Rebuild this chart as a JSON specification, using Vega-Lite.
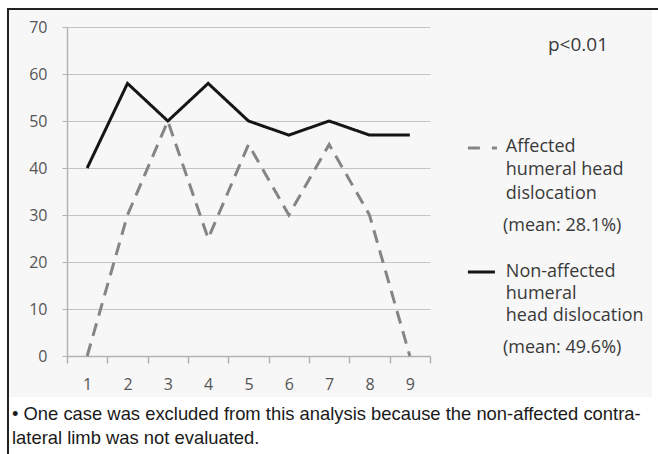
{
  "$schema": "https://vega.github.io/schema/vega-lite/v6.json",
  "width": 363,
  "height": 329,
  "autosize": {"type": "none"},
  "padding": {"left": 67, "top": 27, "right": 228, "bottom": 98},
  "background": "#f7f7f7",
  "config": {"view": {"stroke": null}},
  "datasets": {
    "series": [
      {"case": 1, "value": 0, "series": "Affected"},
      {"case": 2, "value": 30, "series": "Affected"},
      {"case": 3, "value": 50, "series": "Affected"},
      {"case": 4, "value": 25, "series": "Affected"},
      {"case": 5, "value": 45, "series": "Affected"},
      {"case": 6, "value": 30, "series": "Affected"},
      {"case": 7, "value": 45, "series": "Affected"},
      {"case": 8, "value": 30, "series": "Affected"},
      {"case": 9, "value": 0, "series": "Affected"},
      {"case": 1, "value": 40, "series": "Non-affected"},
      {"case": 2, "value": 58, "series": "Non-affected"},
      {"case": 3, "value": 50, "series": "Non-affected"},
      {"case": 4, "value": 58, "series": "Non-affected"},
      {"case": 5, "value": 50, "series": "Non-affected"},
      {"case": 6, "value": 47, "series": "Non-affected"},
      {"case": 7, "value": 50, "series": "Non-affected"},
      {"case": 8, "value": 47, "series": "Non-affected"},
      {"case": 9, "value": 47, "series": "Non-affected"}
    ],
    "margins": [
      {"case": -1.46, "case2": -0.938, "value": 80, "value2": -26.4},
      {"case": -1.46, "case2": 16.2, "value": 80, "value2": 73.8},
      {"case": -1.46, "case2": 16.2, "value": -8.72, "value2": -26.4},
      {"case": 15.005, "case2": 16.2, "value": 80, "value2": -26.4}
    ],
    "frame": [
      {"case": -0.963, "case2": 16.7, "value": 73.83, "value2": -30.6}
    ],
    "legendKeys": [
      {"series": "Affected", "case": 10.44, "case2": 11.16, "value": 44.26},
      {"series": "Non-affected", "case": 10.44, "case2": 11.11, "value": 17.87}
    ],
    "legendText": [
      {"label": "Affected", "case": 11.38, "value": 44.47},
      {"label": "humeral head", "case": 11.38, "value": 39.57},
      {"label": "dislocation", "case": 11.38, "value": 34.47},
      {"label": "(mean: 28.1%)", "case": 11.31, "value": 27.66},
      {"label": "Non-affected", "case": 11.38, "value": 17.87},
      {"label": "humeral", "case": 11.38, "value": 13.19},
      {"label": "head dislocation", "case": 11.38, "value": 8.51},
      {"label": "(mean: 49.6%)", "case": 11.31, "value": 1.7}
    ],
    "pvalue": [
      {"label": "p<0.01", "case": 13.17, "value": 66.17}
    ],
    "footnote": [
      {"label": "• One case was excluded from this analysis because the non-affected contra-", "case": -0.864, "value": -12.33},
      {"label": "lateral limb was not evaluated.", "case": -0.864, "value": -17.43}
    ]
  },
  "encoding": {
    "x": {
      "field": "case",
      "type": "quantitative",
      "scale": {"domain": [0.5, 9.5], "nice": false, "zero": false},
      "axis": {
        "title": null,
        "grid": false,
        "values": [0.5, 1, 1.5, 2, 2.5, 3, 3.5, 4, 4.5, 5, 5.5, 6, 6.5, 7, 7.5, 8, 8.5, 9, 9.5],
        "labelExpr": "datum.value % 1 === 0 ? format(datum.value, 'd') : ''",
        "labelOverlap": false,
        "labelBound": false,
        "labelFlush": false,
        "domainColor": "#b3b3b3",
        "domainWidth": 1.5,
        "tickColor": "#b3b3b3",
        "tickWidth": 1.5,
        "tickSize": 7,
        "tickOpacity": {"condition": {"test": "datum.value % 1 !== 0", "value": 1}, "value": 0},
        "labelFont": "Open Sans",
        "labelFontSize": 16,
        "labelColor": "#555555",
        "labelPadding": 13
      }
    },
    "y": {
      "field": "value",
      "type": "quantitative",
      "scale": {"domain": [0, 70], "nice": false, "zero": false},
      "axis": {
        "title": null,
        "values": [0, 10, 20, 30, 40, 50, 60, 70],
        "grid": true,
        "gridColor": "#c4c4c4",
        "gridWidth": 1,
        "domainColor": "#b3b3b3",
        "domainWidth": 1.5,
        "tickColor": "#b3b3b3",
        "tickSize": 5,
        "labelFont": "Open Sans",
        "labelFontSize": 16,
        "labelColor": "#555555",
        "labelPadding": 15
      }
    }
  },
  "layer": [
    {
      "data": {"name": "series"},
      "mark": {"type": "line", "strokeWidth": 3, "strokeCap": "butt", "strokeJoin": "miter"},
      "encoding": {
        "color": {
          "field": "series",
          "type": "nominal",
          "scale": {"domain": ["Affected", "Non-affected"], "range": ["#858585", "#151515"]},
          "legend": null
        },
        "strokeDash": {
          "field": "series",
          "type": "nominal",
          "scale": {"domain": ["Affected", "Non-affected"], "range": [[13, 8], [1, 0]]},
          "legend": null
        }
      }
    },
    {
      "data": {"name": "margins"},
      "mark": {"type": "rect", "fill": "white"},
      "encoding": {
        "x2": {"field": "case2"},
        "y2": {"field": "value2"}
      }
    },
    {
      "data": {"name": "legendKeys"},
      "mark": {"type": "rule", "strokeWidth": 3},
      "encoding": {
        "x2": {"field": "case2"},
        "color": {"field": "series", "type": "nominal", "legend": null},
        "strokeDash": {"condition": {"test": "datum.series === 'Affected'", "value": [12, 12]}, "value": [1, 0]}
      }
    },
    {
      "data": {"name": "legendText"},
      "mark": {"type": "text", "align": "left", "baseline": "middle", "font": "Open Sans", "fontSize": 18, "color": "#3a3a3a"},
      "encoding": {"text": {"field": "label"}}
    },
    {
      "data": {"name": "pvalue"},
      "mark": {"type": "text", "align": "center", "baseline": "middle", "font": "Open Sans", "fontSize": 19, "color": "#3a3a3a"},
      "encoding": {"text": {"field": "label"}}
    },
    {
      "data": {"name": "footnote"},
      "mark": {"type": "text", "align": "left", "baseline": "middle", "font": "Liberation Sans", "fontSize": 18.4, "color": "#1a1a1a"},
      "encoding": {"text": {"field": "label"}}
    },
    {
      "data": {"name": "frame"},
      "mark": {"type": "rect", "fill": "white", "fillOpacity": 0, "stroke": "#222222", "strokeWidth": 2},
      "encoding": {
        "x2": {"field": "case2"},
        "y2": {"field": "value2"}
      }
    }
  ]
}
